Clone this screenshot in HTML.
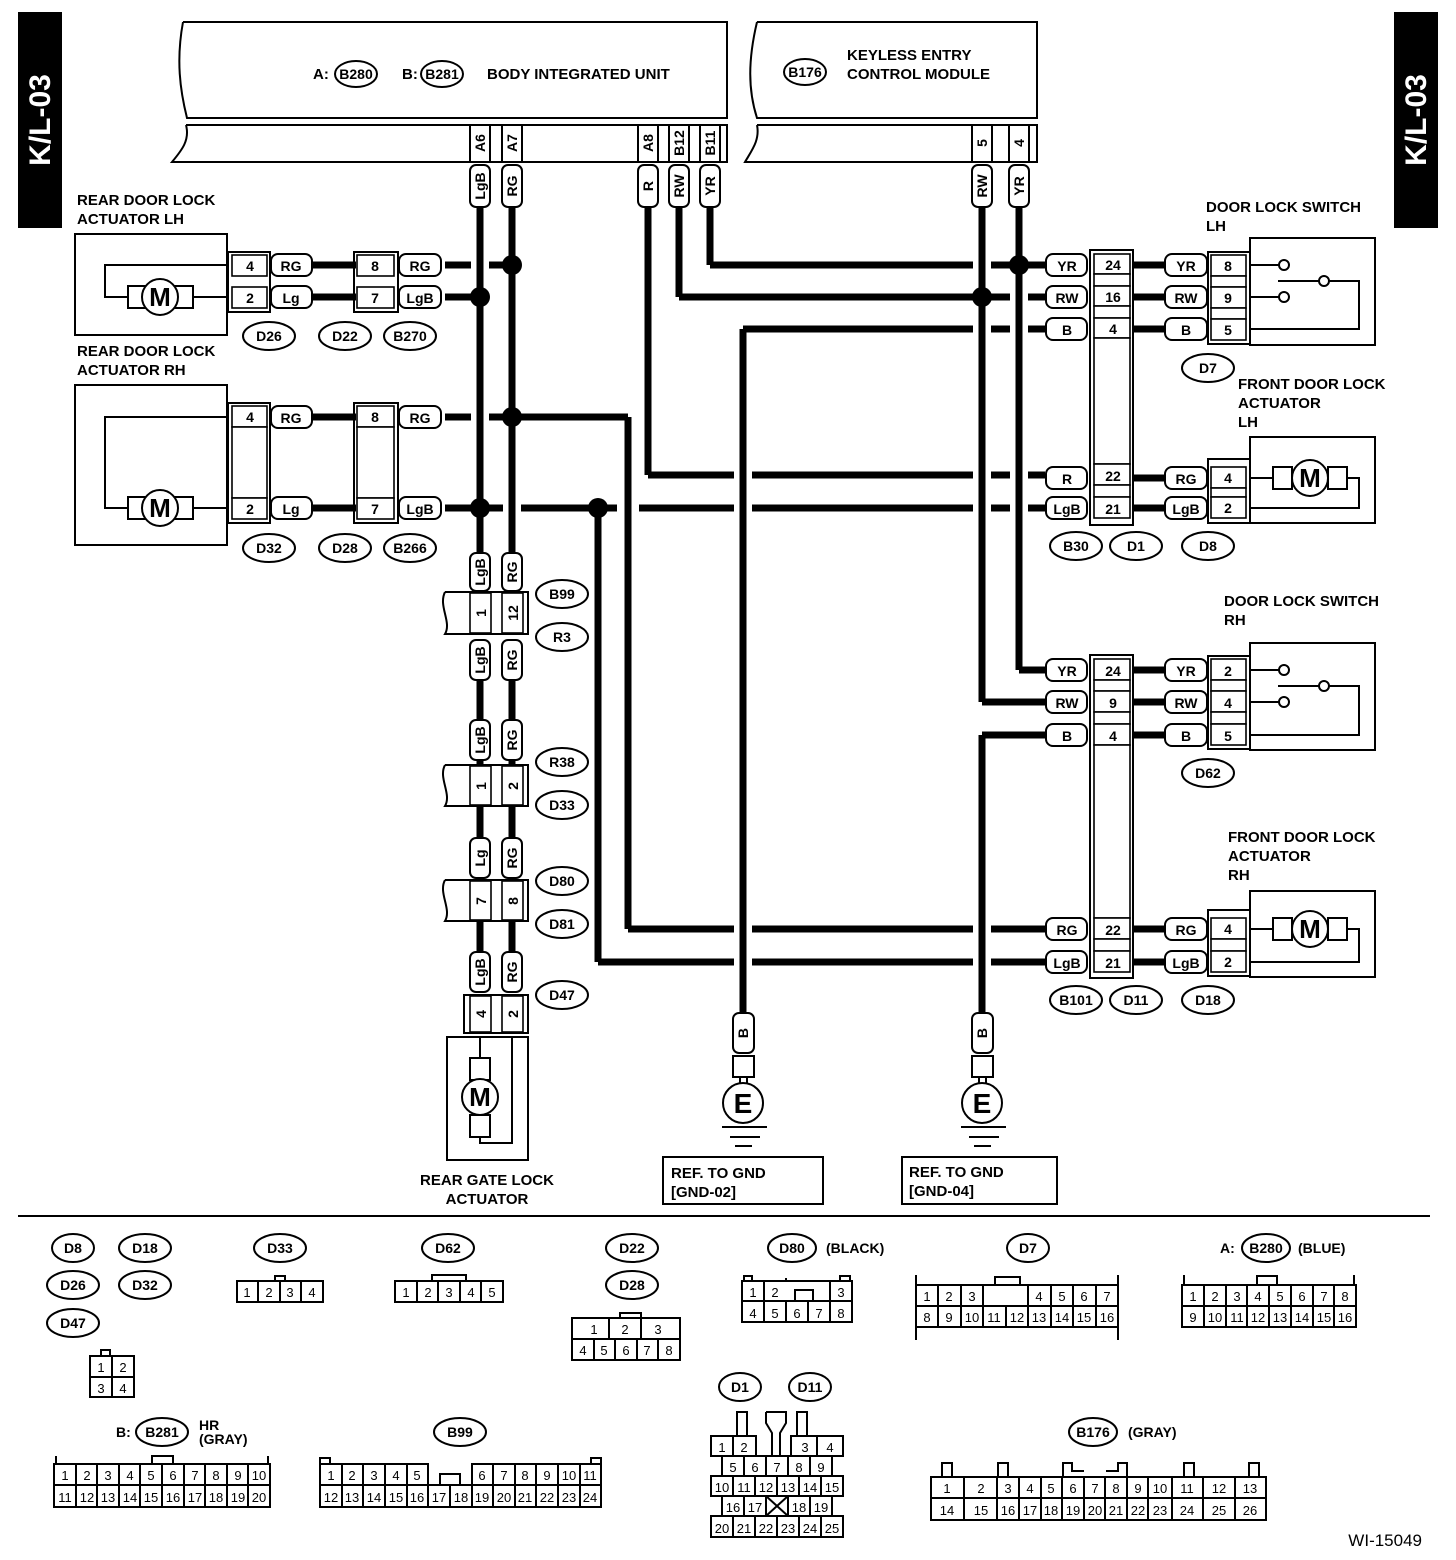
<!DOCTYPE html>
<html><head><meta charset="utf-8"><style>
html,body{margin:0;padding:0;background:#fff}
svg{display:block}
text{font-family:"Liberation Sans",sans-serif;font-weight:bold;fill:#000}
.w{stroke:#000;stroke-width:7;fill:none}
.o{stroke:#000;stroke-width:2;fill:none}
.f{stroke:#000;stroke-width:2;fill:#fff}
.n{stroke:#000;stroke-width:1.6;fill:#fff}
.t{font-size:15px}
.s{font-size:14px}
.c{font-size:13px;font-weight:normal}
</style></head><body>
<svg width="1456" height="1560" viewBox="0 0 1456 1560" xmlns="http://www.w3.org/2000/svg">
<!-- side tabs -->
<rect x="18" y="12" width="44" height="216" fill="#000"/>
<text x="0" y="0" transform="translate(50,120) rotate(-90)" text-anchor="middle" style="font-size:30px;fill:#fff">K/L-03</text>
<rect x="1394" y="12" width="44" height="216" fill="#000"/>
<text x="0" y="0" transform="translate(1426,120) rotate(-90)" text-anchor="middle" style="font-size:30px;fill:#fff">K/L-03</text>

<!-- body integrated unit -->
<path class="o" d="M183,22 L727,22 L727,118 L187,118 C180,90 176,60 183,22"/>
<path class="o" d="M186,125 L727,125 L727,162 L172,162 C182,150 190,140 186,125"/>
<text x="313" y="79" class="t">A:</text>
<ellipse class="o" cx="356" cy="74" rx="21" ry="13"/><text x="356" y="79" class="s" text-anchor="middle">B280</text>
<text x="402" y="79" class="t">B:</text>
<ellipse class="o" cx="442" cy="74" rx="21" ry="13"/><text x="442" y="79" class="s" text-anchor="middle">B281</text>
<text x="487" y="79" class="t">BODY INTEGRATED UNIT</text>
<!-- keyless -->
<path class="o" d="M757,22 L1037,22 L1037,118 L757,118 C748,90 748,60 757,22"/>
<path class="o" d="M757,125 L1037,125 L1037,162 L745,162 C752,150 760,140 757,125"/>
<ellipse class="o" cx="805" cy="72" rx="21" ry="13"/><text x="805" y="77" class="s" text-anchor="middle">B176</text>
<text x="847" y="60" class="t">KEYLESS ENTRY</text>
<text x="847" y="79" class="t">CONTROL MODULE</text>

<!-- pin boxes top -->
<g>
<rect class="o" x="470" y="125" width="20" height="37"/><text transform="translate(485,143) rotate(-90)" class="s" text-anchor="middle">A6</text>
<rect class="o" x="502" y="125" width="20" height="37"/><text transform="translate(517,143) rotate(-90)" class="s" text-anchor="middle">A7</text>
<rect class="o" x="638" y="125" width="20" height="37"/><text transform="translate(653,143) rotate(-90)" class="s" text-anchor="middle">A8</text>
<rect class="o" x="669" y="125" width="20" height="37"/><text transform="translate(684,143) rotate(-90)" class="s" text-anchor="middle">B12</text>
<rect class="o" x="700" y="125" width="20" height="37"/><text transform="translate(715,143) rotate(-90)" class="s" text-anchor="middle">B11</text>
<rect class="o" x="972" y="125" width="20" height="37"/><text transform="translate(987,143) rotate(-90)" class="s" text-anchor="middle">5</text>
<rect class="o" x="1009" y="125" width="20" height="37"/><text transform="translate(1024,143) rotate(-90)" class="s" text-anchor="middle">4</text>
</g>

<!-- WIRES: horizontals -->
<g class="w">
<path d="M445,265 H512"/><path d="M710,265 H1045"/>
<path d="M445,297 H480"/><path d="M679,297 H1045"/>
<path d="M743,329 H1045"/>
<path d="M445,417 H628"/>
<path d="M648,475 H1045"/>
<path d="M445,508 H1045"/>
<path d="M1019,670 H1045"/><path d="M982,702 H1045"/><path d="M982,735 H1045"/>
<path d="M628,929 H1045"/><path d="M598,962 H1045"/>
<path d="M312,265 H356"/><path d="M312,297 H356"/><path d="M312,417 H356"/><path d="M312,508 H356"/>
<path d="M1133,265 H1167"/><path d="M1133,297 H1167"/><path d="M1133,329 H1167"/><path d="M1133,478 H1167"/><path d="M1133,508 H1167"/>
<path d="M1133,670 H1167"/><path d="M1133,702 H1167"/><path d="M1133,735 H1167"/><path d="M1133,929 H1167"/><path d="M1133,962 H1167"/>
</g>
<!-- crossing gaps -->
<g fill="#fff">
<rect x="471" y="259" width="18" height="12"/><rect x="973" y="259" width="18" height="12"/>
<rect x="1010" y="291" width="18" height="12"/>
<rect x="973" y="323" width="18" height="12"/><rect x="1010" y="323" width="18" height="12"/>
<rect x="471" y="411" width="18" height="12"/>
<rect x="734" y="469" width="18" height="12"/><rect x="973" y="469" width="18" height="12"/><rect x="1010" y="469" width="18" height="12"/>
<rect x="503" y="502" width="18" height="12"/><rect x="617" y="502" width="22" height="12"/><rect x="734" y="502" width="18" height="12"/><rect x="973" y="502" width="18" height="12"/><rect x="1010" y="502" width="18" height="12"/>
<rect x="734" y="923" width="18" height="12"/><rect x="973" y="923" width="18" height="12"/>
<rect x="734" y="956" width="18" height="12"/><rect x="973" y="956" width="18" height="12"/>
</g>
<!-- verticals -->
<g class="w">
<path d="M480,207 V553"/><path d="M512,207 V553"/>
<path d="M480,680 V720"/><path d="M512,680 V720"/>
<path d="M480,760 V840"/><path d="M512,760 V840"/>
<path d="M480,877 V952"/><path d="M512,877 V952"/>
<path d="M628,417 V929"/><path d="M598,508 V962"/>
<path d="M648,207 V475"/><path d="M679,207 V297"/><path d="M710,207 V265"/>
<path d="M743,329 V1015"/>
<path d="M982,207 V702"/><path d="M982,735 V1015"/>
<path d="M1019,207 V670"/>
</g>
<g fill="#000">
<circle cx="512" cy="265" r="10"/><circle cx="480" cy="297" r="10"/><circle cx="512" cy="417" r="10"/>
<circle cx="480" cy="508" r="10"/><circle cx="598" cy="508" r="10"/>
<circle cx="1019" cy="265" r="10"/><circle cx="982" cy="297" r="10"/>
</g>

<!-- vertical pills top -->
<g>
<rect class="f" x="470" y="165" width="20" height="42" rx="6"/><text transform="translate(485,186) rotate(-90)" class="s" text-anchor="middle">LgB</text>
<rect class="f" x="502" y="165" width="20" height="42" rx="6"/><text transform="translate(517,186) rotate(-90)" class="s" text-anchor="middle">RG</text>
<rect class="f" x="638" y="165" width="20" height="42" rx="6"/><text transform="translate(653,186) rotate(-90)" class="s" text-anchor="middle">R</text>
<rect class="f" x="669" y="165" width="20" height="42" rx="6"/><text transform="translate(684,186) rotate(-90)" class="s" text-anchor="middle">RW</text>
<rect class="f" x="700" y="165" width="20" height="42" rx="6"/><text transform="translate(715,186) rotate(-90)" class="s" text-anchor="middle">YR</text>
<rect class="f" x="972" y="165" width="20" height="42" rx="6"/><text transform="translate(987,186) rotate(-90)" class="s" text-anchor="middle">RW</text>
<rect class="f" x="1009" y="165" width="20" height="42" rx="6"/><text transform="translate(1024,186) rotate(-90)" class="s" text-anchor="middle">YR</text>
</g>

<!-- REAR DOOR LH -->
<text x="77" y="205" class="t">REAR DOOR LOCK</text>
<text x="77" y="224" class="t">ACTUATOR LH</text>
<rect class="o" x="75" y="234" width="152" height="101"/>
<path class="o" d="M227,265 H105 V297 H128 M193,297 H227"/>
<rect class="f" x="128" y="286" width="18" height="22"/><rect class="f" x="175" y="286" width="18" height="22"/>
<circle class="f" cx="160" cy="297" r="18"/><text x="160" y="306" text-anchor="middle" style="font-size:26px">M</text>
<rect class="o" x="228" y="252" width="42" height="60"/>
<rect class="n" x="232" y="255" width="35" height="21"/><text x="250" y="271" class="s" text-anchor="middle">4</text>
<rect class="n" x="232" y="287" width="35" height="21"/><text x="250" y="303" class="s" text-anchor="middle">2</text>
<rect class="f" x="271" y="254" width="41" height="22" rx="7"/><text x="291" y="271" class="s" text-anchor="middle">RG</text>
<rect class="f" x="271" y="286" width="41" height="22" rx="7"/><text x="291" y="303" class="s" text-anchor="middle">Lg</text>
<rect class="o" x="354" y="252" width="44" height="60"/>
<rect class="n" x="357" y="255" width="37" height="21"/><text x="375" y="271" class="s" text-anchor="middle">8</text>
<rect class="n" x="357" y="287" width="37" height="21"/><text x="375" y="303" class="s" text-anchor="middle">7</text>
<rect class="f" x="399" y="254" width="42" height="22" rx="7"/><text x="420" y="271" class="s" text-anchor="middle">RG</text>
<rect class="f" x="399" y="286" width="42" height="22" rx="7"/><text x="420" y="303" class="s" text-anchor="middle">LgB</text>
<ellipse class="o" cx="269" cy="336" rx="26" ry="14"/><text x="269" y="341" class="s" text-anchor="middle">D26</text>
<ellipse class="o" cx="345" cy="336" rx="26" ry="14"/><text x="345" y="341" class="s" text-anchor="middle">D22</text>
<ellipse class="o" cx="410" cy="336" rx="26" ry="14"/><text x="410" y="341" class="s" text-anchor="middle">B270</text>

<!-- REAR DOOR RH -->
<text x="77" y="356" class="t">REAR DOOR LOCK</text>
<text x="77" y="375" class="t">ACTUATOR RH</text>
<rect class="o" x="75" y="385" width="152" height="160"/>
<path class="o" d="M227,417 H105 V508 H128 M193,508 H227"/>
<rect class="f" x="128" y="497" width="18" height="22"/><rect class="f" x="175" y="497" width="18" height="22"/>
<circle class="f" cx="160" cy="508" r="18"/><text x="160" y="517" text-anchor="middle" style="font-size:26px">M</text>
<rect class="o" x="228" y="403" width="42" height="120"/>
<rect class="n" x="232" y="406" width="35" height="21"/><text x="250" y="422" class="s" text-anchor="middle">4</text>
<rect class="n" x="232" y="427" width="35" height="71"/>
<rect class="n" x="232" y="498" width="35" height="21"/><text x="250" y="514" class="s" text-anchor="middle">2</text>
<rect class="f" x="271" y="406" width="41" height="22" rx="7"/><text x="291" y="423" class="s" text-anchor="middle">RG</text>
<rect class="f" x="271" y="497" width="41" height="22" rx="7"/><text x="291" y="514" class="s" text-anchor="middle">Lg</text>
<rect class="o" x="354" y="403" width="44" height="120"/>
<rect class="n" x="357" y="406" width="37" height="21"/><text x="375" y="422" class="s" text-anchor="middle">8</text>
<rect class="n" x="357" y="427" width="37" height="71"/>
<rect class="n" x="357" y="498" width="37" height="21"/><text x="375" y="514" class="s" text-anchor="middle">7</text>
<rect class="f" x="399" y="406" width="42" height="22" rx="7"/><text x="420" y="423" class="s" text-anchor="middle">RG</text>
<rect class="f" x="399" y="497" width="42" height="22" rx="7"/><text x="420" y="514" class="s" text-anchor="middle">LgB</text>
<ellipse class="o" cx="269" cy="548" rx="26" ry="14"/><text x="269" y="553" class="s" text-anchor="middle">D32</text>
<ellipse class="o" cx="345" cy="548" rx="26" ry="14"/><text x="345" y="553" class="s" text-anchor="middle">D28</text>
<ellipse class="o" cx="410" cy="548" rx="26" ry="14"/><text x="410" y="553" class="s" text-anchor="middle">B266</text>

<!-- middle column connectors -->
<g>
<rect class="f" x="470" y="553" width="20" height="38" rx="6"/><text transform="translate(485,572) rotate(-90)" class="s" text-anchor="middle">LgB</text>
<rect class="f" x="502" y="553" width="20" height="38" rx="6"/><text transform="translate(517,572) rotate(-90)" class="s" text-anchor="middle">RG</text>
<path class="o" d="M445,592 H528 V634 H445 C452,622 438,606 445,592"/>
<rect class="n" x="470" y="593" width="21" height="40"/><text transform="translate(486,613) rotate(-90)" class="s" text-anchor="middle">1</text>
<rect class="n" x="502" y="593" width="21" height="40"/><text transform="translate(518,613) rotate(-90)" class="s" text-anchor="middle">12</text>
<rect class="f" x="470" y="640" width="20" height="40" rx="6"/><text transform="translate(485,660) rotate(-90)" class="s" text-anchor="middle">LgB</text>
<rect class="f" x="502" y="640" width="20" height="40" rx="6"/><text transform="translate(517,660) rotate(-90)" class="s" text-anchor="middle">RG</text>
<ellipse class="o" cx="562" cy="594" rx="26" ry="14"/><text x="562" y="599" class="s" text-anchor="middle">B99</text>
<ellipse class="o" cx="562" cy="637" rx="26" ry="14"/><text x="562" y="642" class="s" text-anchor="middle">R3</text>

<rect class="f" x="470" y="720" width="20" height="40" rx="6"/><text transform="translate(485,740) rotate(-90)" class="s" text-anchor="middle">LgB</text>
<rect class="f" x="502" y="720" width="20" height="40" rx="6"/><text transform="translate(517,740) rotate(-90)" class="s" text-anchor="middle">RG</text>
<path class="o" d="M445,765 H528 V806 H445 C452,794 438,778 445,765"/>
<rect class="n" x="470" y="766" width="21" height="39"/><text transform="translate(486,786) rotate(-90)" class="s" text-anchor="middle">1</text>
<rect class="n" x="502" y="766" width="21" height="39"/><text transform="translate(518,786) rotate(-90)" class="s" text-anchor="middle">2</text>
<ellipse class="o" cx="562" cy="762" rx="26" ry="14"/><text x="562" y="767" class="s" text-anchor="middle">R38</text>
<ellipse class="o" cx="562" cy="805" rx="26" ry="14"/><text x="562" y="810" class="s" text-anchor="middle">D33</text>

<rect class="f" x="470" y="838" width="20" height="40" rx="6"/><text transform="translate(485,858) rotate(-90)" class="s" text-anchor="middle">Lg</text>
<rect class="f" x="502" y="838" width="20" height="40" rx="6"/><text transform="translate(517,858) rotate(-90)" class="s" text-anchor="middle">RG</text>
<path class="o" d="M445,880 H528 V921 H445 C452,909 438,893 445,880"/>
<rect class="n" x="470" y="881" width="21" height="39"/><text transform="translate(486,901) rotate(-90)" class="s" text-anchor="middle">7</text>
<rect class="n" x="502" y="881" width="21" height="39"/><text transform="translate(518,901) rotate(-90)" class="s" text-anchor="middle">8</text>
<ellipse class="o" cx="562" cy="881" rx="26" ry="14"/><text x="562" y="886" class="s" text-anchor="middle">D80</text>
<ellipse class="o" cx="562" cy="924" rx="26" ry="14"/><text x="562" y="929" class="s" text-anchor="middle">D81</text>

<rect class="f" x="470" y="952" width="20" height="40" rx="6"/><text transform="translate(485,972) rotate(-90)" class="s" text-anchor="middle">LgB</text>
<rect class="f" x="502" y="952" width="20" height="40" rx="6"/><text transform="translate(517,972) rotate(-90)" class="s" text-anchor="middle">RG</text>
<rect class="o" x="464" y="995" width="64" height="38"/>
<rect class="n" x="470" y="996" width="21" height="36"/><text transform="translate(486,1014) rotate(-90)" class="s" text-anchor="middle">4</text>
<rect class="n" x="502" y="996" width="21" height="36"/><text transform="translate(518,1014) rotate(-90)" class="s" text-anchor="middle">2</text>
<ellipse class="o" cx="562" cy="995" rx="26" ry="14"/><text x="562" y="1000" class="s" text-anchor="middle">D47</text>
<rect class="o" x="447" y="1037" width="81" height="123"/>
<path class="o" d="M480,1037 V1060 M480,1136 V1143 H512 V1037"/>
<rect class="f" x="470" y="1058" width="20" height="22"/><rect class="f" x="470" y="1115" width="20" height="22"/>
<circle class="f" cx="480" cy="1097" r="18"/><text x="480" y="1106" text-anchor="middle" style="font-size:26px">M</text>
<text x="487" y="1185" class="t" text-anchor="middle">REAR GATE LOCK</text>
<text x="487" y="1204" class="t" text-anchor="middle">ACTUATOR</text>
</g>

<!-- grounds -->
<g>
<rect class="f" x="733" y="1013" width="21" height="40" rx="6"/><text transform="translate(748,1033) rotate(-90)" class="s" text-anchor="middle">B</text>
<rect class="o" x="733" y="1056" width="21" height="21"/>
<path class="o" d="M740,1077 V1084 M747,1077 V1084"/>
<circle class="o" cx="743" cy="1103" r="20"/><text x="743" y="1113" text-anchor="middle" style="font-size:28px">E</text>
<path class="o" d="M722,1127 H767 M730,1137 H760 M735,1146 H752"/>
<rect class="o" x="663" y="1157" width="160" height="47"/>
<text x="671" y="1178" class="t">REF. TO GND</text><text x="671" y="1197" class="t">[GND-02]</text>

<rect class="f" x="972" y="1013" width="21" height="40" rx="6"/><text transform="translate(987,1033) rotate(-90)" class="s" text-anchor="middle">B</text>
<rect class="o" x="972" y="1056" width="21" height="21"/>
<path class="o" d="M979,1077 V1084 M986,1077 V1084"/>
<circle class="o" cx="982" cy="1103" r="20"/><text x="982" y="1113" text-anchor="middle" style="font-size:28px">E</text>
<path class="o" d="M961,1127 H1006 M969,1137 H999 M974,1146 H991"/>
<rect class="o" x="902" y="1157" width="155" height="47"/>
<text x="909" y="1177" class="t">REF. TO GND</text><text x="909" y="1196" class="t">[GND-04]</text>
</g>

<!-- right side upper -->
<g>
<rect class="f" x="1046" y="254" width="41" height="22" rx="7"/><text x="1067" y="271" class="s" text-anchor="middle">YR</text>
<rect class="f" x="1046" y="286" width="41" height="22" rx="7"/><text x="1067" y="303" class="s" text-anchor="middle">RW</text>
<rect class="f" x="1046" y="318" width="41" height="22" rx="7"/><text x="1067" y="335" class="s" text-anchor="middle">B</text>
<rect class="f" x="1046" y="467" width="41" height="22" rx="7"/><text x="1067" y="484" class="s" text-anchor="middle">R</text>
<rect class="f" x="1046" y="497" width="41" height="22" rx="7"/><text x="1067" y="514" class="s" text-anchor="middle">LgB</text>
<rect class="o" x="1090" y="250" width="43" height="275"/>
<rect class="n" x="1094" y="254" width="36" height="20"/><text x="1113" y="270" class="s" text-anchor="middle">24</text>
<rect class="n" x="1094" y="274" width="36" height="12"/>
<rect class="n" x="1094" y="286" width="36" height="20"/><text x="1113" y="302" class="s" text-anchor="middle">16</text>
<rect class="n" x="1094" y="306" width="36" height="12"/>
<rect class="n" x="1094" y="318" width="36" height="20"/><text x="1113" y="334" class="s" text-anchor="middle">4</text>
<rect class="n" x="1094" y="338" width="36" height="126"/>
<rect class="n" x="1094" y="464" width="36" height="21"/><text x="1113" y="481" class="s" text-anchor="middle">22</text>
<rect class="n" x="1094" y="485" width="36" height="12"/>
<rect class="n" x="1094" y="497" width="36" height="21"/><text x="1113" y="514" class="s" text-anchor="middle">21</text>
<rect class="f" x="1165" y="254" width="42" height="22" rx="7"/><text x="1186" y="271" class="s" text-anchor="middle">YR</text>
<rect class="f" x="1165" y="286" width="42" height="22" rx="7"/><text x="1186" y="303" class="s" text-anchor="middle">RW</text>
<rect class="f" x="1165" y="318" width="42" height="22" rx="7"/><text x="1186" y="335" class="s" text-anchor="middle">B</text>
<rect class="f" x="1165" y="467" width="42" height="22" rx="7"/><text x="1186" y="484" class="s" text-anchor="middle">RG</text>
<rect class="f" x="1165" y="497" width="42" height="22" rx="7"/><text x="1186" y="514" class="s" text-anchor="middle">LgB</text>
<rect class="o" x="1208" y="252" width="42" height="92"/>
<rect class="n" x="1211" y="255" width="35" height="21"/><text x="1228" y="271" class="s" text-anchor="middle">8</text>
<rect class="n" x="1211" y="276" width="35" height="11"/>
<rect class="n" x="1211" y="287" width="35" height="21"/><text x="1228" y="303" class="s" text-anchor="middle">9</text>
<rect class="n" x="1211" y="308" width="35" height="11"/>
<rect class="n" x="1211" y="319" width="35" height="21"/><text x="1228" y="335" class="s" text-anchor="middle">5</text>
<rect class="o" x="1250" y="238" width="125" height="107"/>
<path class="o" d="M1250,265 H1279 M1250,297 H1279 M1278,281 H1320 M1329,281 H1359 V329 H1250"/>
<circle class="f" cx="1284" cy="265" r="5"/><circle class="f" cx="1284" cy="297" r="5"/><circle class="f" cx="1324" cy="281" r="5"/>
<text x="1206" y="212" class="t">DOOR LOCK SWITCH</text><text x="1206" y="231" class="t">LH</text>
<ellipse class="o" cx="1208" cy="368" rx="26" ry="14"/><text x="1208" y="373" class="s" text-anchor="middle">D7</text>
<text x="1238" y="389" class="t">FRONT DOOR LOCK</text><text x="1238" y="408" class="t">ACTUATOR</text><text x="1238" y="427" class="t">LH</text>
<rect class="o" x="1208" y="459" width="42" height="64"/>
<rect class="n" x="1211" y="467" width="35" height="21"/><text x="1228" y="483" class="s" text-anchor="middle">4</text>
<rect class="n" x="1211" y="488" width="35" height="9"/>
<rect class="n" x="1211" y="497" width="35" height="21"/><text x="1228" y="513" class="s" text-anchor="middle">2</text>
<rect class="o" x="1250" y="437" width="125" height="86"/>
<path class="o" d="M1250,478 H1273 M1346,478 H1359 V508 H1250"/>
<rect class="f" x="1273" y="467" width="19" height="22"/><rect class="f" x="1328" y="467" width="19" height="22"/>
<circle class="f" cx="1310" cy="478" r="18"/><text x="1310" y="487" text-anchor="middle" style="font-size:26px">M</text>
<ellipse class="o" cx="1076" cy="546" rx="26" ry="14"/><text x="1076" y="551" class="s" text-anchor="middle">B30</text>
<ellipse class="o" cx="1136" cy="546" rx="26" ry="14"/><text x="1136" y="551" class="s" text-anchor="middle">D1</text>
<ellipse class="o" cx="1208" cy="546" rx="26" ry="14"/><text x="1208" y="551" class="s" text-anchor="middle">D8</text>
</g>

<!-- right side lower -->
<g>
<rect class="f" x="1046" y="659" width="41" height="22" rx="7"/><text x="1067" y="676" class="s" text-anchor="middle">YR</text>
<rect class="f" x="1046" y="691" width="41" height="22" rx="7"/><text x="1067" y="708" class="s" text-anchor="middle">RW</text>
<rect class="f" x="1046" y="724" width="41" height="22" rx="7"/><text x="1067" y="741" class="s" text-anchor="middle">B</text>
<rect class="f" x="1046" y="918" width="41" height="22" rx="7"/><text x="1067" y="935" class="s" text-anchor="middle">RG</text>
<rect class="f" x="1046" y="951" width="41" height="22" rx="7"/><text x="1067" y="968" class="s" text-anchor="middle">LgB</text>
<rect class="o" x="1090" y="655" width="43" height="323"/>
<rect class="n" x="1094" y="659" width="36" height="21"/><text x="1113" y="676" class="s" text-anchor="middle">24</text>
<rect class="n" x="1094" y="680" width="36" height="11"/>
<rect class="n" x="1094" y="691" width="36" height="21"/><text x="1113" y="708" class="s" text-anchor="middle">9</text>
<rect class="n" x="1094" y="712" width="36" height="12"/>
<rect class="n" x="1094" y="724" width="36" height="21"/><text x="1113" y="741" class="s" text-anchor="middle">4</text>
<rect class="n" x="1094" y="745" width="36" height="173"/>
<rect class="n" x="1094" y="918" width="36" height="21"/><text x="1113" y="935" class="s" text-anchor="middle">22</text>
<rect class="n" x="1094" y="939" width="36" height="12"/>
<rect class="n" x="1094" y="951" width="36" height="21"/><text x="1113" y="968" class="s" text-anchor="middle">21</text>
<rect class="f" x="1165" y="659" width="42" height="22" rx="7"/><text x="1186" y="676" class="s" text-anchor="middle">YR</text>
<rect class="f" x="1165" y="691" width="42" height="22" rx="7"/><text x="1186" y="708" class="s" text-anchor="middle">RW</text>
<rect class="f" x="1165" y="724" width="42" height="22" rx="7"/><text x="1186" y="741" class="s" text-anchor="middle">B</text>
<rect class="f" x="1165" y="918" width="42" height="22" rx="7"/><text x="1186" y="935" class="s" text-anchor="middle">RG</text>
<rect class="f" x="1165" y="951" width="42" height="22" rx="7"/><text x="1186" y="968" class="s" text-anchor="middle">LgB</text>
<rect class="o" x="1208" y="656" width="42" height="93"/>
<rect class="n" x="1211" y="659" width="35" height="21"/><text x="1228" y="676" class="s" text-anchor="middle">2</text>
<rect class="n" x="1211" y="680" width="35" height="11"/>
<rect class="n" x="1211" y="691" width="35" height="21"/><text x="1228" y="708" class="s" text-anchor="middle">4</text>
<rect class="n" x="1211" y="712" width="35" height="12"/>
<rect class="n" x="1211" y="724" width="35" height="21"/><text x="1228" y="741" class="s" text-anchor="middle">5</text>
<rect class="o" x="1250" y="643" width="125" height="107"/>
<path class="o" d="M1250,670 H1279 M1250,702 H1279 M1278,686 H1320 M1329,686 H1359 V735 H1250"/>
<circle class="f" cx="1284" cy="670" r="5"/><circle class="f" cx="1284" cy="702" r="5"/><circle class="f" cx="1324" cy="686" r="5"/>
<text x="1224" y="606" class="t">DOOR LOCK SWITCH</text><text x="1224" y="625" class="t">RH</text>
<ellipse class="o" cx="1208" cy="773" rx="26" ry="14"/><text x="1208" y="778" class="s" text-anchor="middle">D62</text>
<text x="1228" y="842" class="t">FRONT DOOR LOCK</text><text x="1228" y="861" class="t">ACTUATOR</text><text x="1228" y="880" class="t">RH</text>
<rect class="o" x="1208" y="910" width="42" height="66"/>
<rect class="n" x="1211" y="918" width="35" height="21"/><text x="1228" y="934" class="s" text-anchor="middle">4</text>
<rect class="n" x="1211" y="939" width="35" height="12"/>
<rect class="n" x="1211" y="951" width="35" height="21"/><text x="1228" y="967" class="s" text-anchor="middle">2</text>
<rect class="o" x="1250" y="891" width="125" height="86"/>
<path class="o" d="M1250,929 H1273 M1346,929 H1359 V962 H1250"/>
<rect class="f" x="1273" y="918" width="19" height="22"/><rect class="f" x="1328" y="918" width="19" height="22"/>
<circle class="f" cx="1310" cy="929" r="18"/><text x="1310" y="938" text-anchor="middle" style="font-size:26px">M</text>
<ellipse class="o" cx="1076" cy="1000" rx="26" ry="14"/><text x="1076" y="1005" class="s" text-anchor="middle">B101</text>
<ellipse class="o" cx="1136" cy="1000" rx="26" ry="14"/><text x="1136" y="1005" class="s" text-anchor="middle">D11</text>
<ellipse class="o" cx="1208" cy="1000" rx="26" ry="14"/><text x="1208" y="1005" class="s" text-anchor="middle">D18</text>
</g>

<!-- separator -->
<path d="M18,1216 H1430" stroke="#000" stroke-width="2"/>

<!-- bottom connector legend -->
<g>
<ellipse class="o" cx="73" cy="1248" rx="21" ry="14"/><text x="73" y="1253" class="s" text-anchor="middle">D8</text>
<ellipse class="o" cx="145" cy="1248" rx="26" ry="14"/><text x="145" y="1253" class="s" text-anchor="middle">D18</text>
<ellipse class="o" cx="73" cy="1285" rx="26" ry="14"/><text x="73" y="1290" class="s" text-anchor="middle">D26</text>
<ellipse class="o" cx="145" cy="1285" rx="26" ry="14"/><text x="145" y="1290" class="s" text-anchor="middle">D32</text>
<ellipse class="o" cx="73" cy="1323" rx="26" ry="14"/><text x="73" y="1328" class="s" text-anchor="middle">D47</text>
<rect class="o" x="101" y="1350" width="9" height="6"/>
<rect class="o" x="90" y="1356" width="44" height="41"/><path class="o" d="M112,1356 V1397 M90,1377 H134"/>
<text x="101" y="1372" class="c" text-anchor="middle">1</text><text x="123" y="1372" class="c" text-anchor="middle">2</text>
<text x="101" y="1393" class="c" text-anchor="middle">3</text><text x="123" y="1393" class="c" text-anchor="middle">4</text>

<ellipse class="o" cx="280" cy="1248" rx="26" ry="14"/><text x="280" y="1253" class="s" text-anchor="middle">D33</text>
<rect class="o" x="237" y="1281" width="86" height="21"/><path class="o" d="M258,1281 V1302 M280,1281 V1302 M301,1281 V1302 M275,1281 V1276 H285 V1281"/>
<text x="247" y="1297" class="c" text-anchor="middle">1</text><text x="269" y="1297" class="c" text-anchor="middle">2</text><text x="290" y="1297" class="c" text-anchor="middle">3</text><text x="312" y="1297" class="c" text-anchor="middle">4</text>

<ellipse class="o" cx="448" cy="1248" rx="26" ry="14"/><text x="448" y="1253" class="s" text-anchor="middle">D62</text>
<rect class="o" x="395" y="1281" width="108" height="21"/><path class="o" d="M417,1281 V1302 M438,1281 V1302 M460,1281 V1302 M481,1281 V1302 M432,1281 V1275 H466 V1281"/>
<text x="406" y="1297" class="c" text-anchor="middle">1</text><text x="428" y="1297" class="c" text-anchor="middle">2</text><text x="449" y="1297" class="c" text-anchor="middle">3</text><text x="471" y="1297" class="c" text-anchor="middle">4</text><text x="492" y="1297" class="c" text-anchor="middle">5</text>

<ellipse class="o" cx="632" cy="1248" rx="26" ry="14"/><text x="632" y="1253" class="s" text-anchor="middle">D22</text>
<ellipse class="o" cx="632" cy="1285" rx="26" ry="14"/><text x="632" y="1290" class="s" text-anchor="middle">D28</text>
<rect class="o" x="572" y="1318" width="108" height="42"/><path class="o" d="M572,1339 H680 M594,1339 V1360 M615,1339 V1360 M637,1339 V1360 M658,1339 V1360 M609,1318 V1339 M641,1318 V1339 M620,1318 V1313 H641 V1318"/>
<text x="594" y="1334" class="c" text-anchor="middle">1</text><text x="625" y="1334" class="c" text-anchor="middle">2</text><text x="658" y="1334" class="c" text-anchor="middle">3</text>
<text x="583" y="1355" class="c" text-anchor="middle">4</text><text x="604" y="1355" class="c" text-anchor="middle">5</text><text x="626" y="1355" class="c" text-anchor="middle">6</text><text x="647" y="1355" class="c" text-anchor="middle">7</text><text x="669" y="1355" class="c" text-anchor="middle">8</text>

<ellipse class="o" cx="792" cy="1248" rx="24" ry="14"/><text x="792" y="1253" class="s" text-anchor="middle">D80</text>
<text x="826" y="1253" class="s">(BLACK)</text>
<rect class="o" x="742" y="1281" width="110" height="41"/><path class="o" d="M742,1301 H852 M764,1281 V1322 M786,1301 V1322 M808,1301 V1322 M830,1281 V1322 M786,1281 V1278 M795,1301 V1290 H813 V1301 M744,1281 V1276 H752 V1281 M840,1281 V1276 H850 V1281"/>
<text x="753" y="1297" class="c" text-anchor="middle">1</text><text x="775" y="1297" class="c" text-anchor="middle">2</text><text x="841" y="1297" class="c" text-anchor="middle">3</text>
<text x="753" y="1318" class="c" text-anchor="middle">4</text><text x="775" y="1318" class="c" text-anchor="middle">5</text><text x="797" y="1318" class="c" text-anchor="middle">6</text><text x="819" y="1318" class="c" text-anchor="middle">7</text><text x="841" y="1318" class="c" text-anchor="middle">8</text>

<ellipse class="o" cx="1028" cy="1248" rx="21" ry="14"/><text x="1028" y="1253" class="s" text-anchor="middle">D7</text>
<rect class="o" x="916" y="1285" width="202" height="42"/><path class="o" d="M916,1306 H1118 M938,1285 V1327 M961,1285 V1327 M983,1285 V1327 M1006,1306 V1327 M1028,1285 V1327 M1051,1285 V1327 M1073,1285 V1327 M1096,1285 V1327 M995,1285 V1277 H1020 V1285 M916,1285 V1275 M1118,1285 V1275 M916,1327 V1340 M1118,1327 V1340"/>
<text x="927" y="1301" class="c" text-anchor="middle">1</text><text x="949" y="1301" class="c" text-anchor="middle">2</text><text x="972" y="1301" class="c" text-anchor="middle">3</text><text x="1039" y="1301" class="c" text-anchor="middle">4</text><text x="1062" y="1301" class="c" text-anchor="middle">5</text><text x="1084" y="1301" class="c" text-anchor="middle">6</text><text x="1107" y="1301" class="c" text-anchor="middle">7</text>
<text x="927" y="1322" class="c" text-anchor="middle">8</text><text x="949" y="1322" class="c" text-anchor="middle">9</text><text x="972" y="1322" class="c" text-anchor="middle">10</text><text x="994" y="1322" class="c" text-anchor="middle">11</text><text x="1017" y="1322" class="c" text-anchor="middle">12</text><text x="1039" y="1322" class="c" text-anchor="middle">13</text><text x="1062" y="1322" class="c" text-anchor="middle">14</text><text x="1084" y="1322" class="c" text-anchor="middle">15</text><text x="1107" y="1322" class="c" text-anchor="middle">16</text>

<text x="1220" y="1253" class="s">A:</text>
<ellipse class="o" cx="1266" cy="1248" rx="24" ry="14"/><text x="1266" y="1253" class="s" text-anchor="middle">B280</text>
<text x="1298" y="1253" class="s">(BLUE)</text>
<rect class="o" x="1182" y="1285" width="174" height="42"/><path class="o" d="M1182,1306 H1356 M1204,1285 V1327 M1226,1285 V1327 M1247,1285 V1327 M1269,1285 V1327 M1291,1285 V1327 M1313,1285 V1327 M1334,1285 V1327 M1257,1285 V1276 H1277 V1285 M1184,1285 V1275 M1354,1285 V1275"/>
<text x="1193" y="1301" class="c" text-anchor="middle">1</text><text x="1215" y="1301" class="c" text-anchor="middle">2</text><text x="1237" y="1301" class="c" text-anchor="middle">3</text><text x="1258" y="1301" class="c" text-anchor="middle">4</text><text x="1280" y="1301" class="c" text-anchor="middle">5</text><text x="1302" y="1301" class="c" text-anchor="middle">6</text><text x="1324" y="1301" class="c" text-anchor="middle">7</text><text x="1345" y="1301" class="c" text-anchor="middle">8</text>
<text x="1193" y="1322" class="c" text-anchor="middle">9</text><text x="1215" y="1322" class="c" text-anchor="middle">10</text><text x="1237" y="1322" class="c" text-anchor="middle">11</text><text x="1258" y="1322" class="c" text-anchor="middle">12</text><text x="1280" y="1322" class="c" text-anchor="middle">13</text><text x="1302" y="1322" class="c" text-anchor="middle">14</text><text x="1324" y="1322" class="c" text-anchor="middle">15</text><text x="1345" y="1322" class="c" text-anchor="middle">16</text>

<!-- B281 -->
<text x="116" y="1437" class="s">B:</text>
<ellipse class="o" cx="162" cy="1432" rx="26" ry="14"/><text x="162" y="1437" class="s" text-anchor="middle">B281</text>
<text x="199" y="1430" class="s">HR</text><text x="199" y="1444" class="s">(GRAY)</text>
<rect class="o" x="54" y="1464" width="216" height="43"/><path class="o" d="M54,1485 H270 M76,1464 V1507 M97,1464 V1507 M119,1464 V1507 M140,1464 V1507 M162,1464 V1507 M184,1464 V1507 M205,1464 V1507 M227,1464 V1507 M248,1464 V1507 M152,1464 V1456 H173 V1464 M56,1464 V1456 M268,1464 V1456"/>
<text x="65" y="1480" class="c" text-anchor="middle">1</text><text x="87" y="1480" class="c" text-anchor="middle">2</text><text x="108" y="1480" class="c" text-anchor="middle">3</text><text x="130" y="1480" class="c" text-anchor="middle">4</text><text x="151" y="1480" class="c" text-anchor="middle">5</text><text x="173" y="1480" class="c" text-anchor="middle">6</text><text x="195" y="1480" class="c" text-anchor="middle">7</text><text x="216" y="1480" class="c" text-anchor="middle">8</text><text x="238" y="1480" class="c" text-anchor="middle">9</text><text x="259" y="1480" class="c" text-anchor="middle">10</text>
<text x="65" y="1502" class="c" text-anchor="middle">11</text><text x="87" y="1502" class="c" text-anchor="middle">12</text><text x="108" y="1502" class="c" text-anchor="middle">13</text><text x="130" y="1502" class="c" text-anchor="middle">14</text><text x="151" y="1502" class="c" text-anchor="middle">15</text><text x="173" y="1502" class="c" text-anchor="middle">16</text><text x="195" y="1502" class="c" text-anchor="middle">17</text><text x="216" y="1502" class="c" text-anchor="middle">18</text><text x="238" y="1502" class="c" text-anchor="middle">19</text><text x="259" y="1502" class="c" text-anchor="middle">20</text>

<!-- B99 -->
<ellipse class="o" cx="460" cy="1432" rx="26" ry="14"/><text x="460" y="1437" class="s" text-anchor="middle">B99</text>
<path class="o" d="M320,1464 H428 V1485 H320 Z M320,1485 H601 V1507 H320 Z M472,1464 H601 V1485 H472 Z"/>
<path class="o" d="M342,1464 V1507 M363,1464 V1507 M385,1464 V1507 M407,1464 V1507 M428,1485 V1507 M450,1485 V1507 M472,1464 V1507 M493,1464 V1507 M515,1464 V1507 M536,1464 V1507 M558,1464 V1507 M580,1464 V1507 M440,1485 V1474 H460 V1485 M320,1464 V1458 H330 V1464 M591,1464 V1458 H601 V1464"/>
<text x="331" y="1480" class="c" text-anchor="middle">1</text><text x="352" y="1480" class="c" text-anchor="middle">2</text><text x="374" y="1480" class="c" text-anchor="middle">3</text><text x="396" y="1480" class="c" text-anchor="middle">4</text><text x="417" y="1480" class="c" text-anchor="middle">5</text>
<text x="482" y="1480" class="c" text-anchor="middle">6</text><text x="504" y="1480" class="c" text-anchor="middle">7</text><text x="525" y="1480" class="c" text-anchor="middle">8</text><text x="547" y="1480" class="c" text-anchor="middle">9</text><text x="569" y="1480" class="c" text-anchor="middle">10</text><text x="590" y="1480" class="c" text-anchor="middle">11</text>
<text x="331" y="1502" class="c" text-anchor="middle">12</text><text x="352" y="1502" class="c" text-anchor="middle">13</text><text x="374" y="1502" class="c" text-anchor="middle">14</text><text x="396" y="1502" class="c" text-anchor="middle">15</text><text x="417" y="1502" class="c" text-anchor="middle">16</text><text x="439" y="1502" class="c" text-anchor="middle">17</text><text x="461" y="1502" class="c" text-anchor="middle">18</text><text x="482" y="1502" class="c" text-anchor="middle">19</text><text x="504" y="1502" class="c" text-anchor="middle">20</text><text x="525" y="1502" class="c" text-anchor="middle">21</text><text x="547" y="1502" class="c" text-anchor="middle">22</text><text x="569" y="1502" class="c" text-anchor="middle">23</text><text x="590" y="1502" class="c" text-anchor="middle">24</text>

<!-- D1 / D11 -->
<ellipse class="o" cx="740" cy="1387" rx="21" ry="14"/><text x="740" y="1392" class="s" text-anchor="middle">D1</text>
<ellipse class="o" cx="810" cy="1387" rx="21" ry="14"/><text x="810" y="1392" class="s" text-anchor="middle">D11</text>
<path class="o" d="M737,1436 V1412 H747 V1436 M797,1436 V1412 H807 V1436 M766,1412 H786 V1423 L780,1433 V1457 M766,1412 V1423 L772,1433 V1457"/>
<path class="o" d="M711,1436 H756 V1456 H711 Z M791,1436 H843 V1456 H791 Z M722,1456 H832 V1476 H722 Z M711,1476 H843 V1496 H711 Z M722,1496 H832 V1516 H722 Z M711,1516 H843 V1537 H711 Z"/>
<path class="o" d="M733,1436 V1456 M817,1436 V1456 M744,1456 V1476 M766,1456 V1476 M788,1456 V1476 M810,1456 V1476 M733,1476 V1496 M755,1476 V1496 M777,1476 V1496 M799,1476 V1496 M821,1476 V1496 M744,1496 V1516 M766,1496 V1516 M788,1496 V1516 M810,1496 V1516 M766,1496 L788,1516 M788,1496 L766,1516 M733,1516 V1537 M755,1516 V1537 M777,1516 V1537 M799,1516 V1537 M821,1516 V1537"/>
<text x="722" y="1452" class="c" text-anchor="middle">1</text><text x="744" y="1452" class="c" text-anchor="middle">2</text><text x="805" y="1452" class="c" text-anchor="middle">3</text><text x="830" y="1452" class="c" text-anchor="middle">4</text>
<text x="733" y="1472" class="c" text-anchor="middle">5</text><text x="755" y="1472" class="c" text-anchor="middle">6</text><text x="777" y="1472" class="c" text-anchor="middle">7</text><text x="799" y="1472" class="c" text-anchor="middle">8</text><text x="821" y="1472" class="c" text-anchor="middle">9</text>
<text x="722" y="1492" class="c" text-anchor="middle">10</text><text x="744" y="1492" class="c" text-anchor="middle">11</text><text x="766" y="1492" class="c" text-anchor="middle">12</text><text x="788" y="1492" class="c" text-anchor="middle">13</text><text x="810" y="1492" class="c" text-anchor="middle">14</text><text x="832" y="1492" class="c" text-anchor="middle">15</text>
<text x="733" y="1512" class="c" text-anchor="middle">16</text><text x="755" y="1512" class="c" text-anchor="middle">17</text><text x="799" y="1512" class="c" text-anchor="middle">18</text><text x="821" y="1512" class="c" text-anchor="middle">19</text>
<text x="722" y="1533" class="c" text-anchor="middle">20</text><text x="744" y="1533" class="c" text-anchor="middle">21</text><text x="766" y="1533" class="c" text-anchor="middle">22</text><text x="788" y="1533" class="c" text-anchor="middle">23</text><text x="810" y="1533" class="c" text-anchor="middle">24</text><text x="832" y="1533" class="c" text-anchor="middle">25</text>

<!-- B176 -->
<ellipse class="o" cx="1093" cy="1432" rx="24" ry="14"/><text x="1093" y="1437" class="s" text-anchor="middle">B176</text>
<text x="1128" y="1437" class="s">(GRAY)</text>
<rect class="o" x="931" y="1477" width="335" height="43"/>
<path class="o" d="M931,1498 H1266 M964,1477 V1520 M997,1477 V1520 M1019,1477 V1520 M1041,1477 V1520 M1062,1477 V1520 M1084,1477 V1520 M1105,1477 V1520 M1127,1477 V1520 M1148,1477 V1520 M1172,1477 V1520 M1203,1477 V1520 M1235,1477 V1520"/>
<path class="o" d="M942,1477 V1463 H952 V1477 M998,1477 V1463 H1008 V1477 M1063,1477 V1463 H1072 V1471 H1084 M1106,1471 H1118 V1463 H1127 V1477 M1184,1477 V1463 H1194 V1477 M1249,1477 V1463 H1259 V1477"/>
<text x="947" y="1493" class="c" text-anchor="middle">1</text><text x="981" y="1493" class="c" text-anchor="middle">2</text><text x="1008" y="1493" class="c" text-anchor="middle">3</text><text x="1030" y="1493" class="c" text-anchor="middle">4</text><text x="1051" y="1493" class="c" text-anchor="middle">5</text><text x="1073" y="1493" class="c" text-anchor="middle">6</text><text x="1095" y="1493" class="c" text-anchor="middle">7</text><text x="1116" y="1493" class="c" text-anchor="middle">8</text><text x="1138" y="1493" class="c" text-anchor="middle">9</text><text x="1160" y="1493" class="c" text-anchor="middle">10</text><text x="1187" y="1493" class="c" text-anchor="middle">11</text><text x="1219" y="1493" class="c" text-anchor="middle">12</text><text x="1250" y="1493" class="c" text-anchor="middle">13</text>
<text x="947" y="1515" class="c" text-anchor="middle">14</text><text x="981" y="1515" class="c" text-anchor="middle">15</text><text x="1008" y="1515" class="c" text-anchor="middle">16</text><text x="1030" y="1515" class="c" text-anchor="middle">17</text><text x="1051" y="1515" class="c" text-anchor="middle">18</text><text x="1073" y="1515" class="c" text-anchor="middle">19</text><text x="1095" y="1515" class="c" text-anchor="middle">20</text><text x="1116" y="1515" class="c" text-anchor="middle">21</text><text x="1138" y="1515" class="c" text-anchor="middle">22</text><text x="1160" y="1515" class="c" text-anchor="middle">23</text><text x="1187" y="1515" class="c" text-anchor="middle">24</text><text x="1219" y="1515" class="c" text-anchor="middle">25</text><text x="1250" y="1515" class="c" text-anchor="middle">26</text>

<text x="1422" y="1546" text-anchor="end" style="font-size:17px;font-weight:normal">WI-15049</text>
</g>
</svg>
</body></html>
